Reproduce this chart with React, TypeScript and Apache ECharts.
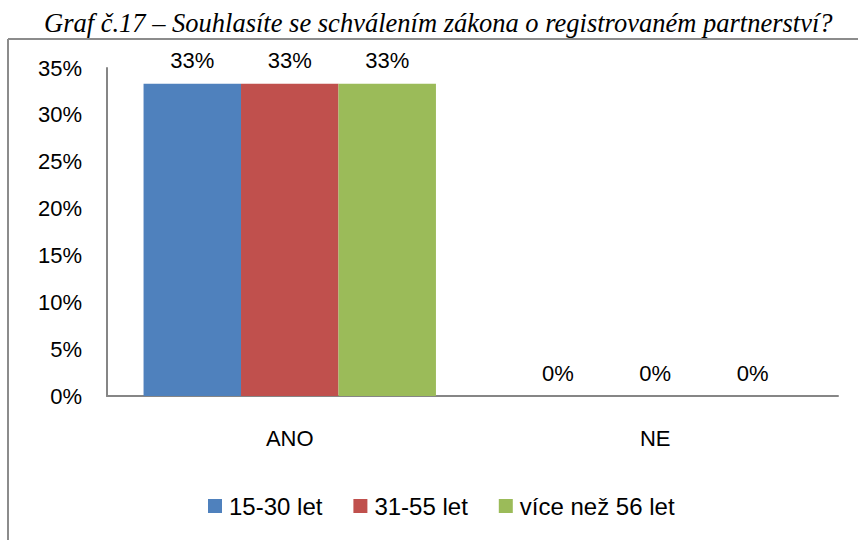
import React, { useEffect, useRef } from "react";
import * as echarts from "echarts";

const TITLE = "Graf č.17 – Souhlasíte se schválením zákona o registrovaném partnerství?";
const categories = ["ANO", "NE"];
const seriesNames = ["15-30 let", "31-55 let", "více než 56 let"];
const values15to30 = [33.33, 0];
const values31to55 = [33.33, 0];
const valuesOver56 = [33.33, 0];
const colors = ["#4F81BD", "#C0504D", "#9BBB59"];

const FONT = "'Liberation Sans', Arial, sans-serif";

export default function App() {
  const ref = useRef<HTMLDivElement>(null);
  useEffect(() => {
    if (!ref.current) return;
    const chart = echarts.init(ref.current, undefined, { renderer: "svg" });
    const data = [values15to30, values31to55, valuesOver56];
    chart.setOption({
      animation: false,
      backgroundColor: "#ffffff",
      textStyle: { fontFamily: FONT },
      title: {
        text: TITLE,
        left: 39,
        top: 4,
        textStyle: {
          fontFamily: "'Liberation Serif', 'Times New Roman', serif",
          fontStyle: "italic",
          fontWeight: "normal",
          fontSize: 26.5,
          color: "#000",
        },
      },
      graphic: [
        { type: "line", shape: { x1: 8, y1: 39, x2: 858, y2: 39 }, style: { stroke: "#8c8c8c", lineWidth: 2 } },
        { type: "line", shape: { x1: 8, y1: 39, x2: 8, y2: 540 }, style: { stroke: "#8c8c8c", lineWidth: 2 } },
      ],
      legend: {
        data: seriesNames,
        top: 489,
        left: 203,
        icon: "rect",
        itemWidth: 14,
        itemHeight: 14,
        itemGap: 31,
        textStyle: { fontFamily: FONT, fontSize: 24, color: "#000", padding: [0, 0, 0, 2] },
      },
      grid: { left: 107, right: 20, top: 68, bottom: 144, containLabel: false },
      xAxis: {
        type: "category",
        data: categories,
        axisLine: { lineStyle: { color: "#868686", width: 2 } },
        axisTick: { show: false },
        axisLabel: { fontSize: 22, color: "#000", margin: 31, fontFamily: FONT },
      },
      yAxis: {
        type: "value",
        min: 0,
        max: 35,
        interval: 5,
        axisLine: { show: true, lineStyle: { color: "#868686", width: 2 } },
        axisTick: { show: false },
        splitLine: { show: false },
        axisLabel: { fontSize: 22, color: "#000", margin: 25, formatter: "{value}%", fontFamily: FONT },
      },
      series: seriesNames.map((name, i) => ({
        name,
        type: "bar",
        data: data[i],
        barGap: "0%",
        barCategoryGap: "20%",
        itemStyle: { color: colors[i] },
        label: {
          show: true,
          position: "top",
          distance: 12,
          fontSize: 22,
          color: "#000",
          fontFamily: FONT,
          formatter: (p: any) => Math.round(p.value) + "%",
        },
      })),
    });
    return () => chart.dispose();
  }, []);
  return (
    <div style={{ position: "fixed", left: 0, top: 0, width: 858, height: 540, background: "#fff" }}>
      <div ref={ref} style={{ width: 858, height: 540 }} />
    </div>
  );
}
